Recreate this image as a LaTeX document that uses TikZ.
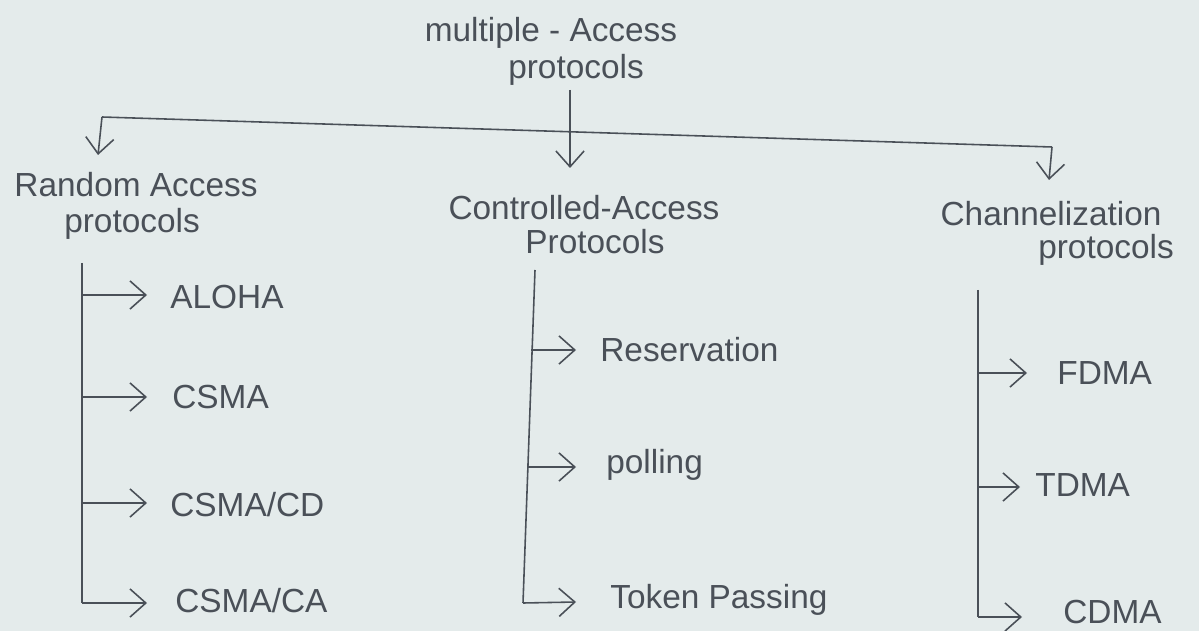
\documentclass[tikz,border=0pt]{standalone}
\usepackage{fontspec}
\setmainfont{Liberation Sans}
\usetikzlibrary{arrows.meta}
\definecolor{paper}{HTML}{E4EBEB}
\definecolor{ink}{HTML}{4A5058}
\begin{document}
\begin{tikzpicture}[x=0.02cm,y=-0.02cm,
  every node/.style={inner sep=0pt, text=ink, font=\fontsize{19}{22}\selectfont},
  wire/.style={draw=ink, line width=0.9pt},
  arr/.style={wire, -{Straight Barb[length=9pt,width=16pt,line width=0.9pt]}},
  head/.style={align=center, font=\fontsize{19}{40}\selectfont},
  item/.style={anchor=west}]
\fill[paper] (0,0) rectangle (1199,631);
\useasboundingbox (0,0) rectangle (1199,631);

% root title
\node[head] (root1) at (551,33) {multiple - Access};
\node[head] (root2) at (576,70) {protocols};

% distribution bar
\coordinate (barL) at (102,117);
\coordinate (barR) at (1052,147);
\coordinate (rootTop) at (570,90);
\coordinate (rootTip) at (570,168);
\coordinate (leftTip) at (98,155);
\coordinate (rightTip) at (1049,180);
\draw[wire] (barL) -- (barR);
\draw[arr] (rootTop) -- (rootTip);
\draw[arr] (barL) -- (leftTip);
\draw[arr] (barR) -- (rightTip);

% category headings
\node (rand1) at (136,185) {Random Access};
\node (rand2) at (132,224) {protocols};
\node (ctrl1) at (584,208) {Controlled-Access};
\node (ctrl2) at (595,242) {Protocols};
\node (chan1) at (1051,214) {Channelization};
\node (chan2) at (1106,250) {protocols};

% random access branches
\coordinate (rTop) at (82,263);
\coordinate (rBot) at (82,603);
\draw[wire] (rTop) -- (rBot);
\node[item] (aloha) at (170,297) {ALOHA};
\node[item] (csma) at (172,397) {CSMA};
\node[item] (csmacd) at (170,505) {CSMA/CD};
\node[item] (csmaca) at (175,601) {CSMA/CA};
\coordinate (rA) at (82,295);
\coordinate (rB) at (82,397);
\coordinate (rC) at (82,503);
\draw[arr] (rA) -- (147,295);
\draw[arr] (rB) -- (147,397);
\draw[arr] (rC) -- (147,503);
\draw[arr] (rBot) -- (147,603);

% controlled access branches
\coordinate (cTop) at (535,270);
\coordinate (cBot) at (523,603);
\draw[wire] (cTop) -- (cBot);
\node[item] (resv) at (600,350) {Reservation};
\node[item] (poll) at (606,465) {polling};
\node[item] (token) at (610,600) {Token Passing};
\draw[arr] (531,350) -- (576,350);
\draw[arr] (527,467) -- (576,467);
\draw[arr] (cBot) -- (576,602);

% channelization branches
\coordinate (hTop) at (978,290);
\coordinate (hBot) at (978,617);
\draw[wire] (hTop) -- (hBot);
\node[item] (fdma) at (1057,373) {FDMA};
\node[item] (tdma) at (1035,485) {TDMA};
\node[item] (cdma) at (1063,612) {CDMA};
\draw[arr] (978,373) -- (1027,373);
\draw[arr] (978,487) -- (1020,487);
\draw[arr] (hBot) -- (1022,617);
\end{tikzpicture}
\end{document}
